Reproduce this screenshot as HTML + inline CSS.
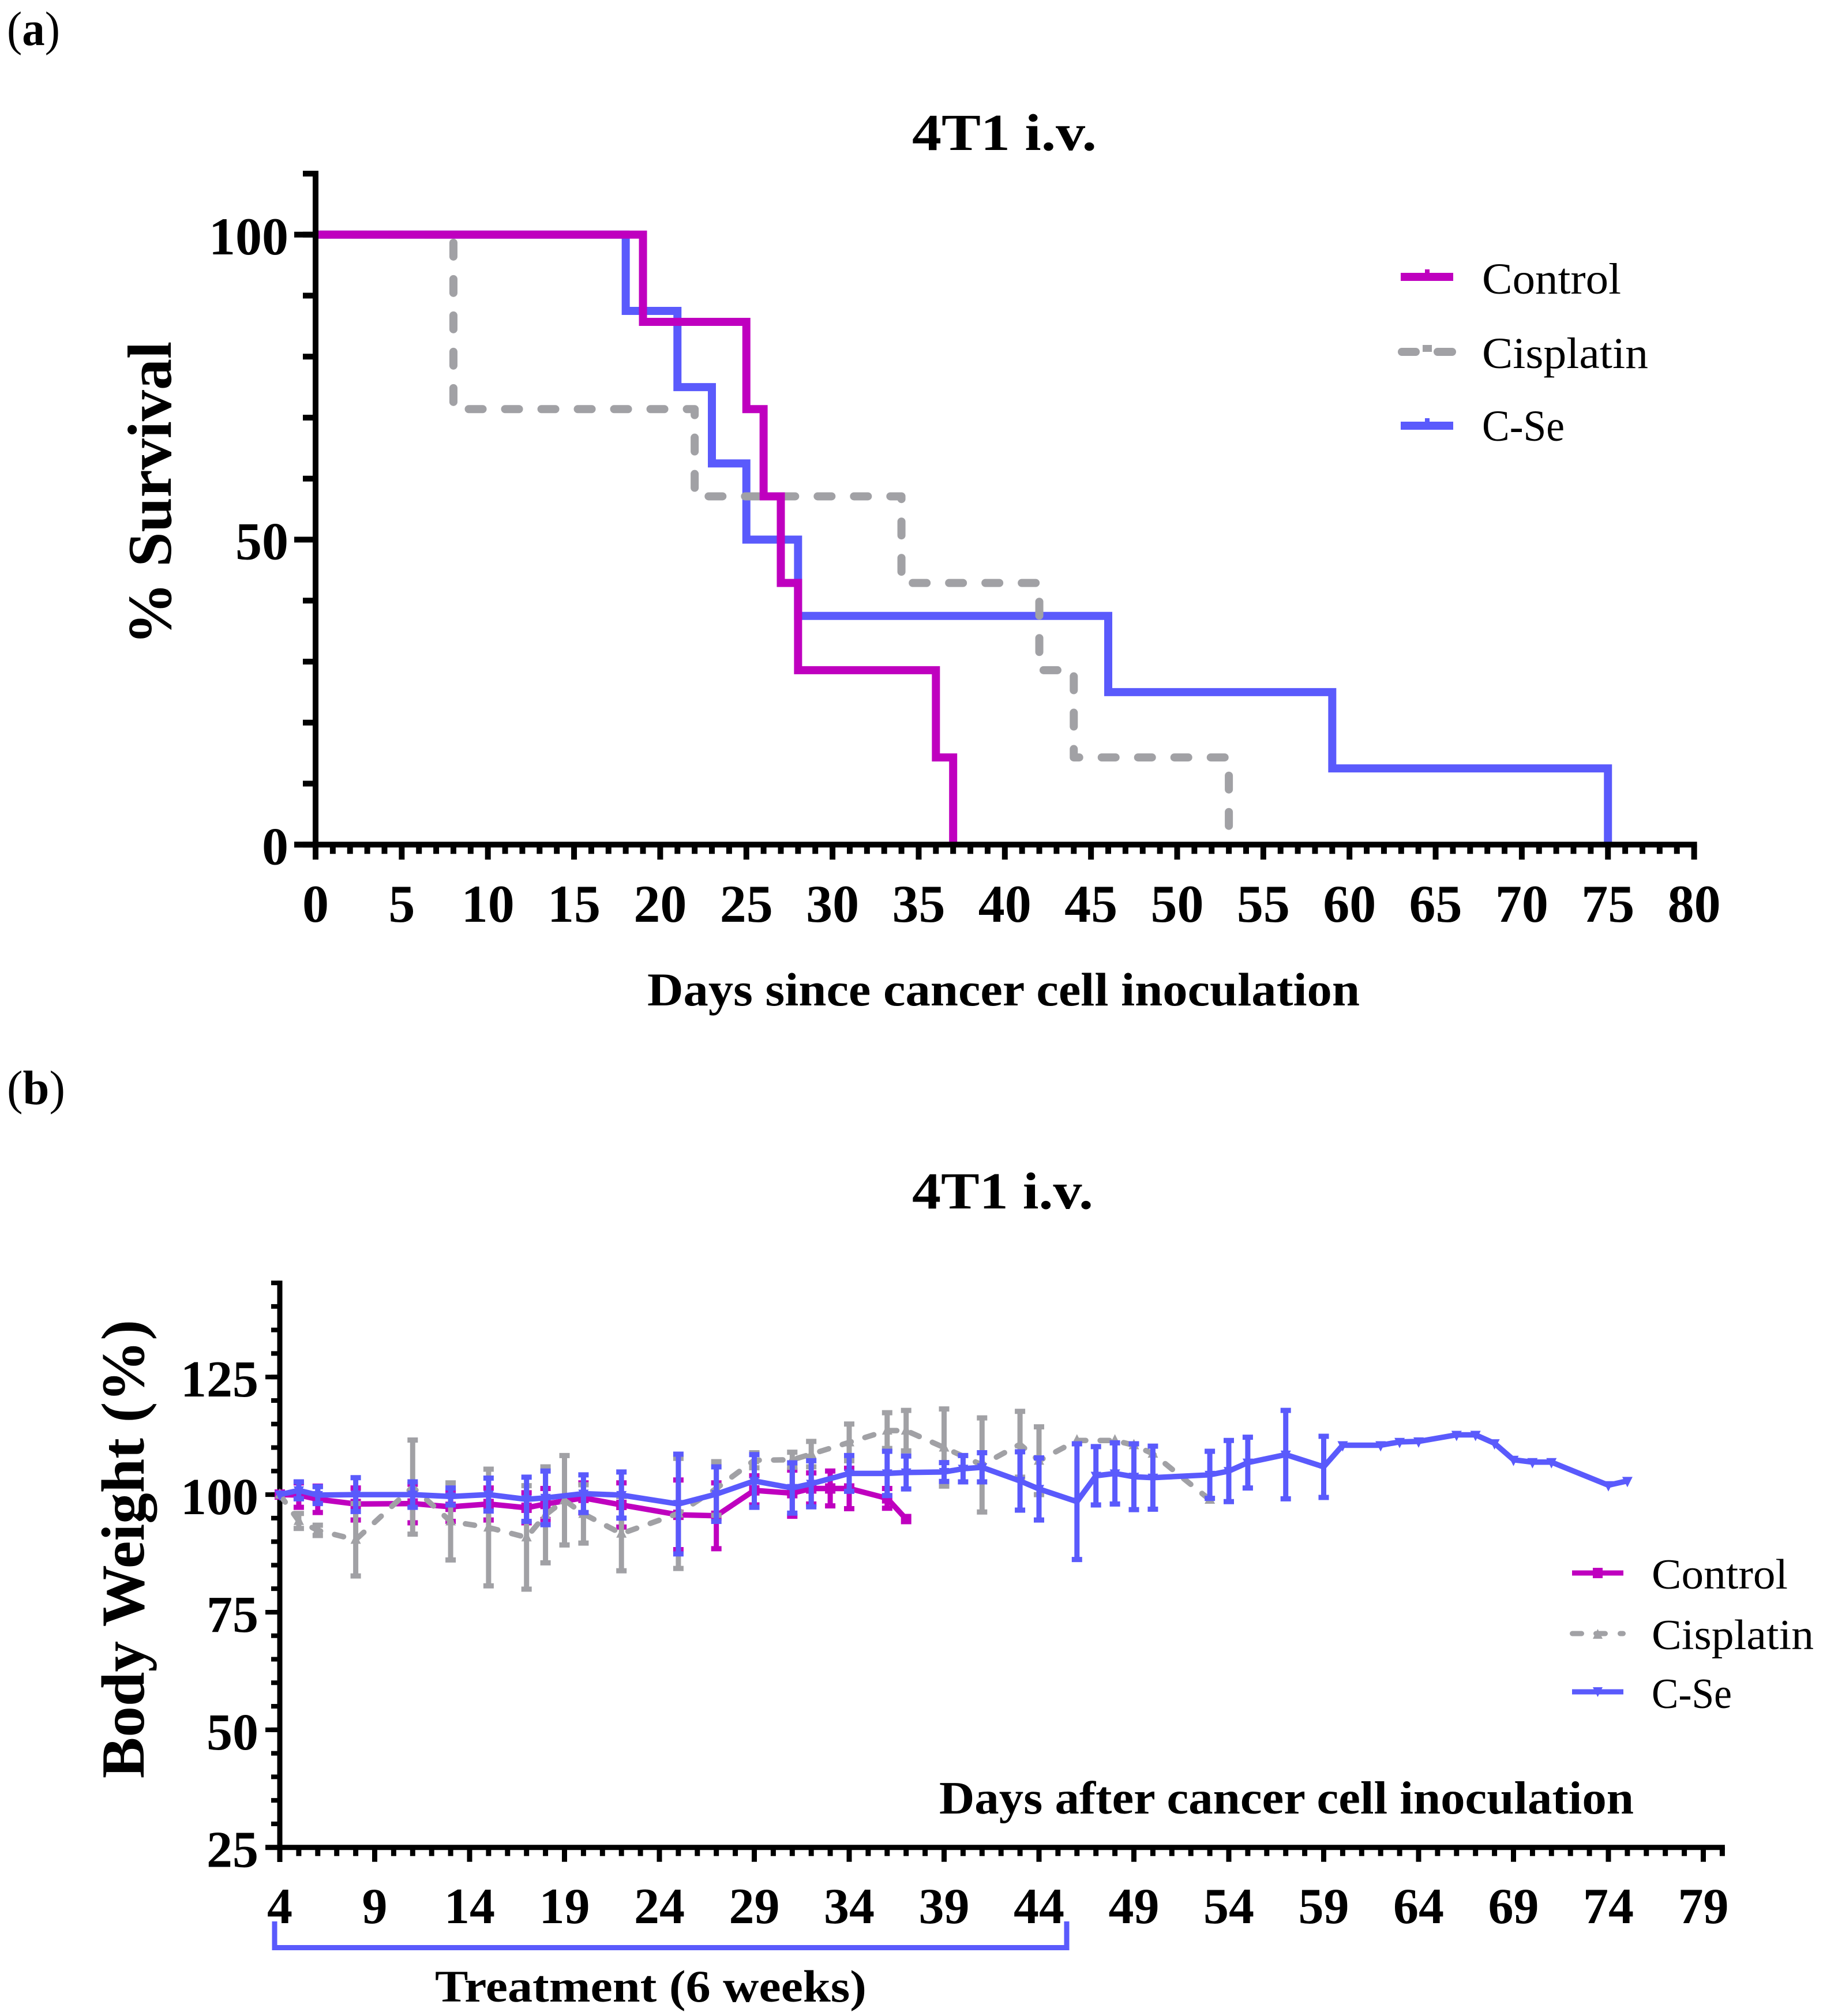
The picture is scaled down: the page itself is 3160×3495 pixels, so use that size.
<!DOCTYPE html>
<html lang="en">
<head>
<meta charset="utf-8">
<title>4T1 i.v. survival and body weight</title>
<style>
html,body{margin:0;padding:0;background:#fff;}
svg{display:block;}
text{font-family:"Liberation Serif",serif;fill:#000;}
.b{font-weight:bold;}
</style>
</head>
<body>
<svg id="figure" xmlns="http://www.w3.org/2000/svg" width="3160" height="3495" viewBox="0 0 3160 3495">
<rect x="0" y="0" width="3160" height="3495" fill="#fff"/>

<text x="12" y="78" font-size="84" textLength="92" lengthAdjust="spacingAndGlyphs">(<tspan class="b">a</tspan>)</text>
<text x="12" y="1914" font-size="84" textLength="101" lengthAdjust="spacingAndGlyphs">(<tspan class="b">b</tspan>)</text>

<g id="chart-a">
<text class="b" x="1581" y="260" font-size="90" textLength="320" lengthAdjust="spacingAndGlyphs">4T1 i.v.</text>
<text class="b" transform="translate(296,1118) rotate(-90)" font-size="108" textLength="526" lengthAdjust="spacingAndGlyphs">% Survival</text>
<text class="b" x="1122" y="1743" font-size="82" textLength="1235" lengthAdjust="spacingAndGlyphs">Days since cancer cell inoculation</text>
<g>
<rect x="2428" y="473" width="91" height="14" fill="#bf00bf"/>
<rect x="2470" y="467" width="8" height="8" fill="#bf00bf"/>
<text x="2569" y="509" font-size="76" textLength="241" lengthAdjust="spacingAndGlyphs">Control</text>
<rect x="2423" y="603" width="38" height="14" rx="7" fill="#a1a1a5"/>
<rect x="2466" y="598" width="16" height="12" fill="#a1a1a5"/>
<rect x="2485" y="603" width="39" height="14" rx="7" fill="#a1a1a5"/>
<text x="2569" y="638" font-size="76" textLength="288" lengthAdjust="spacingAndGlyphs">Cisplatin</text>
<rect x="2428" y="731" width="91" height="14" fill="#5a5afc"/>
<rect x="2470" y="725" width="8" height="8" fill="#5a5afc"/>
<text x="2569" y="764" font-size="76" textLength="143" lengthAdjust="spacingAndGlyphs">C-Se</text>
</g>
</g>

<g id="chart-b">
<text class="b" x="1581" y="2095" font-size="90" textLength="314" lengthAdjust="spacingAndGlyphs">4T1 i.v.</text>
<text class="b" transform="translate(249,3083) rotate(-90)" font-size="106" textLength="795" lengthAdjust="spacingAndGlyphs">Body Weight (%)</text>
<text class="b" x="1628" y="3144" font-size="80" textLength="1204" lengthAdjust="spacingAndGlyphs">Days after cancer cell inoculation</text>
<path d="M476 3331 V3376.5 H1849 V3331" fill="none" stroke="#5a5afc" stroke-width="9"/>
<text class="b" x="754" y="3470" font-size="78" textLength="748" lengthAdjust="spacingAndGlyphs">Treatment (6 weeks)</text>
<g>
<rect x="2725" y="2722.5" width="89" height="9" fill="#bf00bf"/>
<rect x="2761" y="2718" width="17" height="18" fill="#bf00bf"/>
<text x="2863" y="2754" font-size="74" textLength="236" lengthAdjust="spacingAndGlyphs">Control</text>
<rect x="2721" y="2827.5" width="25" height="9" rx="4.5" fill="#a1a1a5"/>
<rect x="2762" y="2827.5" width="25" height="9" rx="4.5" fill="#a1a1a5"/>
<polygon points="2761,2841 2778,2841 2769.5,2824" fill="#a1a1a5"/>
<rect x="2804" y="2827.5" width="14" height="9" rx="4.5" fill="#a1a1a5"/>
<text x="2863" y="2859" font-size="74" textLength="281" lengthAdjust="spacingAndGlyphs">Cisplatin</text>
<rect x="2725" y="2928.5" width="89" height="9" fill="#5a5afc"/>
<polygon points="2761,2925 2778,2925 2769.5,2942" fill="#5a5afc"/>
<text x="2863" y="2961" font-size="74" textLength="139" lengthAdjust="spacingAndGlyphs">C-Se</text>
</g>
</g>
</svg>

<script>
/* ---------- Panel (a): survival data ---------- */
const survivalXTickLabels = ['0','5','10','15','20','25','30','35','40','45','50','55','60','65','70','75','80'];
const survivalYTickLabels = ['0','50','100'];
const survivalControlDays = [0,19,25,26,27,28,36,37];
const survivalControlPct = [100,85.7,71.4,57.1,42.9,28.6,14.3,0];
const survivalCisplatinDays = [0,8,22,34,42,44,53];
const survivalCisplatinPct = [100,71.4,57.1,42.9,28.6,14.3,0];
const survivalCseDays = [0,18,21,23,25,28,46,59,75];
const survivalCsePct = [100,87.5,75,62.5,50,37.5,25,12.5,0];

/* ---------- Panel (b): body weight data ---------- */
const weightXTickLabels = ['4','9','14','19','24','29','34','39','44','49','54','59','64','69','74','79'];
const weightYTickLabels = ['25','50','75','100','125'];
const controlDays = [4,5,6,8,11,13,15,17,18,20,22,25,27,29,31,32,33,34,36,37];
const controlMeans = [100,99.9,99,98,98.1,97.4,98,97.2,98,99.3,97.8,95.7,95.5,100.9,100.3,101.3,101.3,101.3,99.2,94.8];
const controlErrors = [0,2.6,2.8,3.4,4.1,3.1,3.4,3.2,3.3,3.2,4.7,7.4,7,3.1,4.9,3.3,3.7,4.3,2.1,0];
const cisplatinDays = [4,5,6,8,11,13,15,17,18,19,20,22,25,27,29,31,32,34,36,37,39,41,43,44,46,48,49,50,53];
const cisplatinMeans = [100,94.4,92.4,90.4,101.6,94.3,93,90.9,95.7,98.8,95.9,91.7,96,101.3,107.3,107.4,108.6,111.1,113.6,113.6,110,106.3,110.7,107.2,111.5,111.5,110.5,108.7,98.9];
const cisplatinErrors = [0,1.6,1.1,7.7,10,8.2,12.4,11,10.2,9.5,6.2,7.9,11.7,5.7,1.6,1.6,2.7,3.9,3.8,4.3,8.2,10,7,7.2,0,0,0,0,0];
const cseDays = [4,5,6,8,11,13,15,17,18,20,22,25,27,29,31,32,34,36,37,39,40,41,43,44,46,47,48,49,50,53,54,55,57,59,60,62,63,64,66,67,68,69,70,71,74,75];
const cseMeans = [100,100.9,99.9,100,100,99.6,100,99,99.3,100.2,99.9,98,100.1,102.9,101.4,102.3,104.5,104.5,104.7,104.8,105.5,105.8,102.9,101.2,98.5,104,104.5,103.8,103.6,104.2,105,106.8,108.5,105.9,110.5,110.5,111.2,111.3,112.7,112.7,110.9,107.4,106.9,106.9,102,102.9];
const cseErrors = [0,1.8,1.8,3.6,2.7,1.8,3.5,4.7,5.7,4,4.9,10.6,5.8,5.6,5.35,4.9,3.8,4.7,3.5,2,2.8,3.1,6.2,6.6,12.3,6.2,6.5,7,6.7,5,6.5,5.4,9.4,6.5,0,0,0,0,0,0,0,0,0,0,0,0];

const BLACK = '#000';
const MAGENTA = '#bf00bf';
const GRAY = '#a1a1a5';
const BLUE = '#5a5afc';

/* axis functions */
function survivalX(day){ return 547 + day * 29.87; }
function survivalY(pct){ return 1464.3 - pct * 10.575; }
function weightX(day){ return 485 + (day - 4) * 32.9; }
function weightY(pct){ return 3202.7 - (pct - 25) * 8.155; }

const SVG_NS = 'http://www.w3.org/2000/svg';
function make(tag, parent, attrs, content){
  const node = document.createElementNS(SVG_NS, tag);
  Object.keys(attrs).forEach(function(k){ node.setAttribute(k, attrs[k]); });
  if (content !== undefined) node.textContent = content;
  parent.appendChild(node);
  return node;
}
function group(parent, name){
  const g = make('g', parent, {});
  
  
  return g;
}

function drawAxes(parent, cfg){
  const g = group(parent, cfg.prefix + '-axes');
  /* x minor and major ticks */
  for (let d = cfg.xMin; d <= cfg.xMax; d++){
    const major = (d - cfg.xMin) % 5 === 0 && d <= cfg.xLastMajor;
    const tick = make('line', g, {x1:cfg.x(d), x2:cfg.x(d), y1:cfg.axisY, y2:cfg.axisY + (major ? cfg.xMajorLen : cfg.xMinorLen), stroke:BLACK, 'stroke-width':cfg.xTickWidth});
    
    
  }
  /* y minor ticks */
  for (let v = cfg.yMin; v <= cfg.yMax; v += cfg.yMinorStep){
    const tick = make('line', g, {x1:cfg.axisX, x2:cfg.axisX - cfg.yMinorLen, y1:cfg.y(v), y2:cfg.y(v), stroke:BLACK, 'stroke-width':cfg.yTickWidth});
    
    
  }
  /* y major ticks with labels */
  cfg.yLabels.forEach(function(label){
    const v = Number(label);
    const tick = make('line', g, {x1:cfg.axisX, x2:cfg.axisX - cfg.yMajorLen, y1:cfg.y(v), y2:cfg.y(v), stroke:BLACK, 'stroke-width':cfg.yTickWidth});
    
    
    const text = make('text', g, {x:cfg.yLabelX, y:cfg.y(v) + 34, 'text-anchor':'end', 'font-size':cfg.yFont, 'font-weight':'bold'}, label);
    
    
  });
  /* x labels */
  cfg.xLabels.forEach(function(label){
    const text = make('text', g, {x:cfg.x(Number(label)), y:cfg.xLabelY, 'text-anchor':'middle', 'font-size':cfg.xFont, 'font-weight':'bold'}, label);
    
    
  });
  /* axis lines */
  const yAxis = make('line', g, {x1:cfg.axisX, x2:cfg.axisX, y1:cfg.y(cfg.yMax) - cfg.yTickWidth / 2, y2:cfg.yAxisBottom, stroke:BLACK, 'stroke-width':cfg.axisWidth});
  
  
  const xAxis = make('line', g, {x1:cfg.axisX - cfg.yMajorLen, x2:cfg.x(cfg.xMax) + cfg.xTickWidth / 2, y1:cfg.axisY, y2:cfg.axisY, stroke:BLACK, 'stroke-width':cfg.axisWidth});
  
  
}

function stepPath(days, pcts){
  let d = 'M' + survivalX(days[0]) + ' ' + survivalY(pcts[0]);
  for (let i = 1; i < days.length; i++){
    d += ' L' + survivalX(days[i]) + ' ' + survivalY(pcts[i - 1]);
    d += ' L' + survivalX(days[i]) + ' ' + survivalY(pcts[i]);
  }
  return d;
}

function drawWeightSeries(parent, name, color, days, means, errors, marker, dash){
  const g = group(parent, name + '-series');
  days.forEach(function(day, i){
    if (!errors[i]) return;
    const x = weightX(day);
    const top = weightY(means[i] + errors[i]);
    const bottom = weightY(means[i] - errors[i]);
    const bar = make('path', g, {d:'M' + x + ' ' + top + ' V' + bottom + ' M' + (x - 9) + ' ' + top + ' H' + (x + 9) + ' M' + (x - 9) + ' ' + bottom + ' H' + (x + 9), fill:'none', stroke:color, 'stroke-width':9});
    
    
  });
  const pts = days.map(function(day, i){ return weightX(day) + ',' + weightY(means[i]); }).join(' ');
  const line = make('polyline', g, {points:pts, fill:'none', stroke:color, 'stroke-width':9.5, 'stroke-linejoin':'miter'});
  if (dash){ line.setAttribute('stroke-dasharray', dash); line.setAttribute('stroke-linecap', 'round'); }
  
  
  days.forEach(function(day, i){
    const x = weightX(day), y = weightY(means[i]);
    let m;
    if (marker === 'square') m = make('rect', g, {x:x - 9, y:y - 9, width:18, height:18, fill:color});
    else if (marker === 'up') m = make('polygon', g, {points:(x - 9) + ',' + (y + 7) + ' ' + (x + 9) + ',' + (y + 7) + ' ' + x + ',' + (y - 11), fill:color});
    else m = make('polygon', g, {points:(x - 9) + ',' + (y - 7) + ' ' + (x + 9) + ',' + (y - 7) + ' ' + x + ',' + (y + 11), fill:color});
    
    
  });
}

/* ---------- render panel (a) ---------- */
const chartA = document.getElementById('chart-a');
const seriesA = group(chartA, 'survival-series');
const cseStep = make('path', seriesA, {d:stepPath(survivalCseDays, survivalCsePct), fill:'none', stroke:BLUE, 'stroke-width':14});


const cisplatinStep = make('path', seriesA, {d:stepPath(survivalCisplatinDays, survivalCisplatinPct), fill:'none', stroke:GRAY, 'stroke-width':14, 'stroke-dasharray':'24 39', 'stroke-dashoffset':'-1', 'stroke-linecap':'round', 'stroke-linejoin':'round'});


const controlStep = make('path', seriesA, {d:stepPath(survivalControlDays, survivalControlPct), fill:'none', stroke:MAGENTA, 'stroke-width':14});


drawAxes(chartA, {prefix:'survival', x:survivalX, y:survivalY, xMin:0, xMax:80, xLastMajor:80, yMin:0, yMax:110, yMinorStep:10,
  axisX:547, axisY:1464.3, axisWidth:10, xMajorLen:26, xMinorLen:16, xTickWidth:10, yMajorLen:37, yMinorLen:22, yTickWidth:10,
  yAxisBottom:1490, xLabels:survivalXTickLabels, yLabels:survivalYTickLabels, xLabelY:1598, yLabelX:500, xFont:92, yFont:92});

/* ---------- render panel (b) ---------- */
const chartB = document.getElementById('chart-b');
drawAxes(chartB, {prefix:'body-weight', x:weightX, y:weightY, xMin:4, xMax:80, xLastMajor:79, yMin:25, yMax:145, yMinorStep:5,
  axisX:485, axisY:3202.7, axisWidth:9, xMajorLen:25, xMinorLen:15, xTickWidth:9, yMajorLen:25, yMinorLen:15, yTickWidth:8,
  yAxisBottom:3228, xLabels:weightXTickLabels, yLabels:weightYTickLabels, xLabelY:3334, yLabelX:448, xFont:88, yFont:90});
drawWeightSeries(chartB, 'control', MAGENTA, controlDays, controlMeans, controlErrors, 'square', null);
drawWeightSeries(chartB, 'cisplatin', GRAY, cisplatinDays, cisplatinMeans, cisplatinErrors, 'up', '16 25');
drawWeightSeries(chartB, 'cse', BLUE, cseDays, cseMeans, cseErrors, 'down', null);
</script>
</body>
</html>
